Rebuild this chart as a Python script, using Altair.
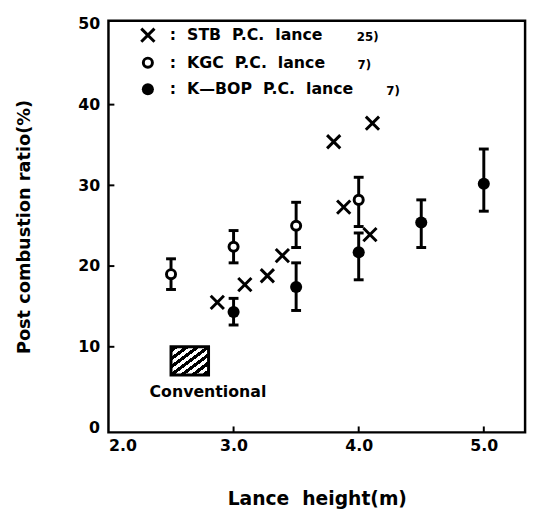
import altair as alt
import pandas as pd

# ---- data ----
stb_x = [2.87, 3.09, 3.27, 3.39, 3.80, 3.88, 4.09, 4.11]
stb_y = [15.5, 17.7, 18.8, 21.3, 35.4, 27.3, 23.9, 37.7]

kgc_x = [2.5, 3.0, 3.5, 4.0]
kgc_y = [19.0, 22.4, 25.0, 28.2]
kgc_lo = [17.1, 20.4, 22.3, 24.9]
kgc_hi = [20.9, 24.4, 27.9, 31.0]

kbop_x = [3.0, 3.5, 4.0, 4.5, 5.0]
kbop_y = [14.3, 17.4, 21.7, 25.4, 30.2]
kbop_lo = [12.7, 14.5, 18.3, 22.3, 26.8]
kbop_hi = [16.0, 20.4, 24.1, 28.2, 34.5]

conv_x = [2.5, 2.8]
conv_y = [6.5, 10.0]
conv_label = "Conventional"

x_ticks = [2.0, 3.0, 4.0, 5.0]
y_ticks = [0, 10, 20, 30, 40, 50]

NB = "\u00a0"
legend_labels = [":" + NB * 2 + "STB" + NB * 2 + "P.C." + NB * 2 + "lance",
                 ":" + NB * 2 + "KGC" + NB * 2 + "P.C." + NB * 2 + "lance",
                 ":" + NB * 2 + "K\u2014BOP" + NB * 2 + "P.C." + NB * 2 + "lance"]
legend_refs = ["25)", "7)", "7)"]

X_DOMAIN = [2.0, 5.33]
Y_DOMAIN = [-0.6, 50.4]
W, H = 423, 418
FONT = "DejaVu Sans"
CROSS = "M-1,-1L1,1M-1,1L1,-1"


def xq(field):
    return alt.X(field, type="quantitative",
                 scale=alt.Scale(domain=X_DOMAIN, nice=False, zero=False),
                 axis=alt.Axis(values=x_ticks, format=".1f", title="Lance" + NB * 2 + "height(m)",
                               labelFlush=True, labelPadding=5, titlePadding=37))


def yq(field):
    return alt.Y(field, type="quantitative",
                 scale=alt.Scale(domain=Y_DOMAIN, nice=False, zero=False),
                 axis=alt.Axis(values=y_ticks, format="d",
                               title="Post combustion ratio(%)",
                               labelPadding=9, titlePadding=45))


stb = pd.DataFrame({"x": stb_x, "y": stb_y})
kgc = pd.DataFrame({"x": kgc_x, "y": kgc_y, "lo": kgc_lo, "hi": kgc_hi})
kbop = pd.DataFrame({"x": kbop_x, "y": kbop_y, "lo": kbop_lo, "hi": kbop_hi})
err = pd.concat([kgc, kbop], ignore_index=True)

# inner ticks
xt = pd.DataFrame({"x": x_ticks[1:]})
yt = pd.DataFrame({"y": y_ticks[1:-1]})
xtick_layer = alt.Chart(xt).mark_rule(color="black", strokeWidth=2).encode(
    x=xq("x"), y=alt.value(H), y2=alt.value(H - 6))
ytick_layer = alt.Chart(yt).mark_rule(color="black", strokeWidth=2).encode(
    y=yq("y"), x=alt.value(0), x2=alt.value(6))

# error bars
bar_layer = alt.Chart(err).mark_rule(color="black", strokeWidth=3).encode(
    x=xq("x"), y=yq("lo"), y2="hi")
cap_lo = alt.Chart(err).mark_tick(color="black", orient="horizontal", size=10, thickness=3,
                                  opacity=1).encode(x=xq("x"), y=yq("lo"))
cap_hi = alt.Chart(err).mark_tick(color="black", orient="horizontal", size=10, thickness=3,
                                  opacity=1).encode(x=xq("x"), y=yq("hi"))

stb_layer = alt.Chart(stb).mark_point(shape=CROSS, filled=False, stroke="black",
                                      strokeWidth=3, size=180, opacity=1).encode(
    x=xq("x"), y=yq("y"))
kgc_layer = alt.Chart(kgc).mark_point(shape="circle", filled=True, fill="white", stroke="black",
                                      strokeWidth=3, size=85, opacity=1, fillOpacity=1).encode(
    x=xq("x"), y=yq("y"))
kbop_layer = alt.Chart(kbop).mark_point(shape="circle", filled=True, color="black",
                                        size=150, opacity=1).encode(
    x=xq("x"), y=yq("y"))

# conventional box (hatched)
n = 7
w = 0.25 / n
stops = [alt.GradientStop(offset=0, color="white")]
for k in range(n):
    c = (k + 0.5) / n
    stops += [alt.GradientStop(offset=c - w, color="white"),
              alt.GradientStop(offset=c - w, color="black"),
              alt.GradientStop(offset=c + w, color="black"),
              alt.GradientStop(offset=c + w, color="white")]
stops.append(alt.GradientStop(offset=1, color="white"))
hatch = alt.LinearGradient(gradient="linear", stops=stops, x1=0, y1=0, x2=1, y2=1)

conv = pd.DataFrame({"x": [conv_x[0]], "x2": [conv_x[1]], "y": [conv_y[0]], "y2": [conv_y[1]]})
conv_layer = alt.Chart(conv).mark_rect(fill=hatch, stroke="black", strokeWidth=3).encode(
    x=xq("x"), x2="x2", y=yq("y"), y2="y2")
conv_text = alt.Chart(pd.DataFrame({"x": [2.795], "y": [4.4], "t": [conv_label]})).mark_text(
    font=FONT, fontWeight="bold", fontSize=16, color="black", align="center", baseline="middle").encode(
    x=xq("x"), y=yq("y"), text="t:N")

# in-plot legend
leg_y = [48.6, 45.2, 41.9]
leg_mx = 2.315
leg_tx = 2.49
ref_x = [3.985, 3.99, 4.22]
leg_stb = alt.Chart(pd.DataFrame({"x": [leg_mx], "y": [leg_y[0]]})).mark_point(
    shape=CROSS, filled=False, stroke="black", strokeWidth=3, size=180, opacity=1).encode(
    x=xq("x"), y=yq("y"))
leg_kgc = alt.Chart(pd.DataFrame({"x": [leg_mx], "y": [leg_y[1]]})).mark_point(
    shape="circle", filled=True, fill="white", stroke="black", strokeWidth=3, size=85,
    opacity=1, fillOpacity=1).encode(x=xq("x"), y=yq("y"))
leg_kbop = alt.Chart(pd.DataFrame({"x": [leg_mx], "y": [leg_y[2]]})).mark_point(
    shape="circle", filled=True, color="black", size=150, opacity=1).encode(
    x=xq("x"), y=yq("y"))
leg_text = alt.Chart(pd.DataFrame({"x": [leg_tx] * 3, "y": leg_y, "t": legend_labels})).mark_text(
    font=FONT, fontWeight="bold", fontSize=16, color="black", align="left", baseline="middle").encode(
    x=xq("x"), y=yq("y"), text="t:N")
ref_text = alt.Chart(pd.DataFrame({"x": ref_x, "y": leg_y, "t": legend_refs})).mark_text(
    font=FONT, fontWeight="bold", fontSize=12, color="black", align="left", baseline="middle", dy=2).encode(
    x=xq("x"), y=yq("y"), text="t:N")

chart = alt.layer(
    xtick_layer, ytick_layer, bar_layer, cap_lo, cap_hi, stb_layer, kgc_layer, kbop_layer,
    conv_layer, conv_text, leg_stb, leg_kgc, leg_kbop, leg_text, ref_text
).properties(
    width=W, height=H,
    autosize=alt.AutoSizeParams(type="none"),
    padding={"left": 102, "top": 9, "right": 6, "bottom": 78},
    background="white",
).configure_view(
    stroke="black", strokeWidth=2.5
).configure_axis(
    grid=False, domain=False, ticks=False, tickSize=0,
    labelFont=FONT, labelFontWeight="bold", labelFontSize=16, labelColor="black",
    titleFont=FONT, titleFontWeight="bold", titleFontSize=18, titleColor="black",
).configure_axisX(titleFontSize=19)

chart.save("out.html", embed_options={"renderer": "svg", "actions": False})
